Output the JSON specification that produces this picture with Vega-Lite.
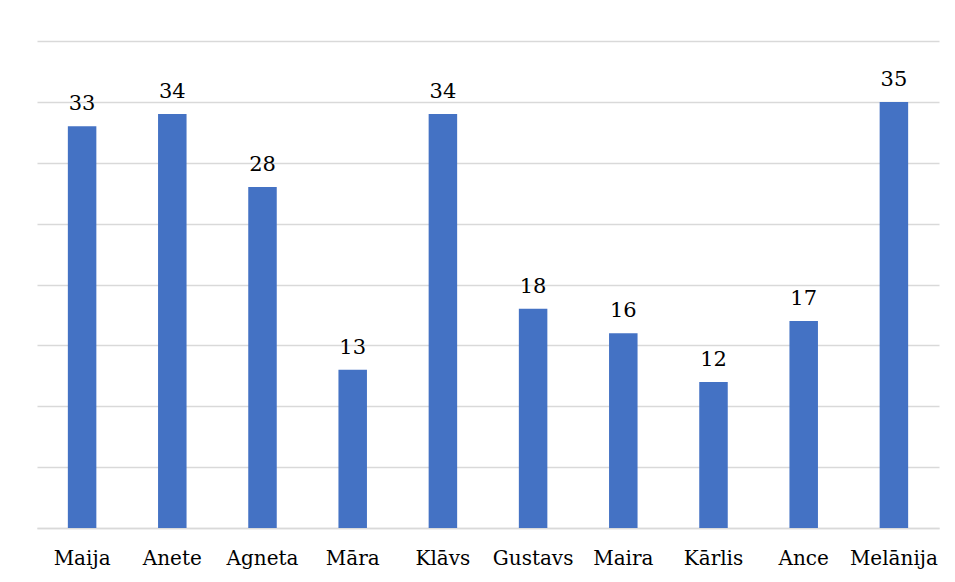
{
  "$schema": "https://vega.github.io/schema/vega-lite/v6.json",
  "autosize": "none",
  "width": 902,
  "height": 487,
  "padding": {"left": 37, "top": 41, "right": 16, "bottom": 54},
  "background": "white",
  "config": {"view": {"stroke": null}, "font": "DejaVu Serif"},
  "data": {"values": [
    {"name": "Maija", "value": 33},
    {"name": "Anete", "value": 34},
    {"name": "Agneta", "value": 28},
    {"name": "Māra", "value": 13},
    {"name": "Klāvs", "value": 34},
    {"name": "Gustavs", "value": 18},
    {"name": "Maira", "value": 16},
    {"name": "Kārlis", "value": 12},
    {"name": "Ance", "value": 17},
    {"name": "Melānija", "value": 35}
  ]},
  "encoding": {
    "x": {"field": "name", "type": "nominal", "sort": null,
      "scale": {"paddingInner": 0.684, "paddingOuter": 0.342},
      "axis": {"title": null, "ticks": false, "domainColor": "#d9d9d9", "domainWidth": 1.5,
        "labelFont": "DejaVu Serif", "labelFontSize": 20, "labelColor": "#000000",
        "labelAngle": 0, "labelBaseline": "alphabetic", "labelPadding": 36}},
    "y": {"field": "value", "type": "quantitative",
      "scale": {"domain": [0, 40], "nice": false},
      "axis": {"title": null, "labels": false, "ticks": false, "domain": false,
        "values": [0, 5, 10, 15, 20, 25, 30, 35, 40], "gridColor": "#d9d9d9", "gridWidth": 1.5}}
  },
  "layer": [
    {"mark": {"type": "bar", "color": "#4472C4"}},
    {"mark": {"type": "text", "baseline": "alphabetic", "dy": -16, "font": "DejaVu Serif", "fontSize": 21, "color": "#000000"},
     "encoding": {"text": {"field": "value", "type": "quantitative"}}}
  ]
}
